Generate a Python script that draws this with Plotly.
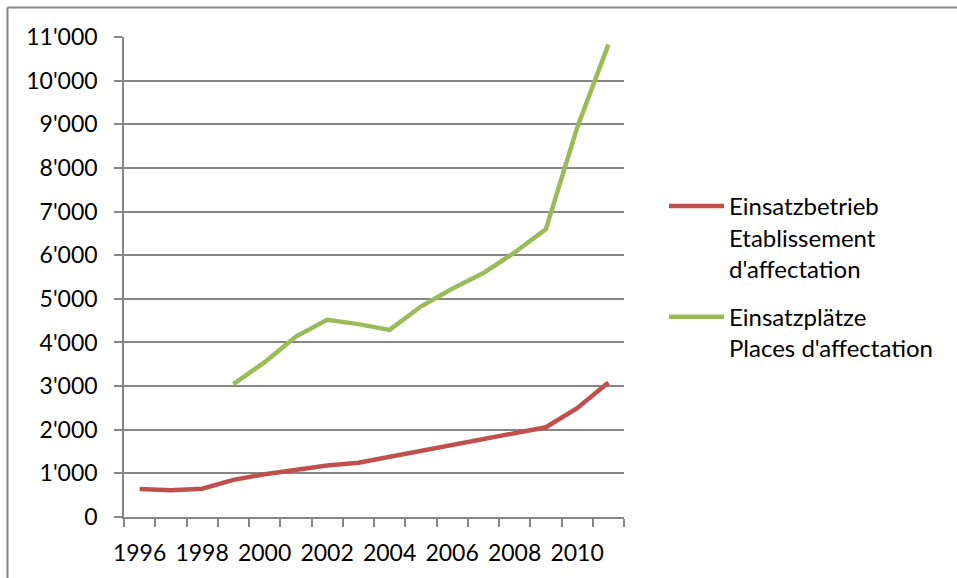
import plotly.graph_objects as go

years = list(range(1996, 2012))
betriebe = [640, 615, 650, 850, 980, 1090, 1180, 1245, 1383, 1498, 1644, 1789, 1919, 2056, 2493, 3081]
plaetze = [None, None, None, 3043, 3548, 4136, 4518, 4420, 4289, 4823, 5229, 5589, 6062, 6598, 8922, 10826]
name_betriebe = "Einsatzbetrieb<br>Etablissement<br>d'affectation"
name_plaetze = "Einsatzplätze<br>Places d'affectation"
x_tick_vals = [1996, 1998, 2000, 2002, 2004, 2006, 2008, 2010]
y_tick_vals = list(range(0, 11001, 1000))
y_tick_text = ["0"] + [f"{v // 1000}'000" for v in y_tick_vals[1:]]

GRID = "#868686"
FONT = "Lato"
TOP, BOTTOM, LEFT, PW = 37, 517, 124, 500
PH = BOTTOM - TOP

def px_x(p):
    return (p - LEFT) / PW

def px_y(p):
    return (BOTTOM - p) / PH

fig = go.Figure()
fig.add_trace(go.Scatter(x=years, y=betriebe, mode="lines", name=name_betriebe,
                         line=dict(color="#C0504D", width=4.5), legendgroup="a"))
fig.add_trace(go.Scatter(x=years, y=plaetze, mode="lines", name=name_plaetze,
                         line=dict(color="#9BBB59", width=4.5), legendgroup="b"))

fig.update_layout(
    width=957, height=578,
    margin=dict(l=LEFT, r=957 - LEFT - PW, t=TOP, b=578 - BOTTOM, autoexpand=False),
    paper_bgcolor="white", plot_bgcolor="white",
    font=dict(family=FONT, size=24, color="black"),
    showlegend=True,
    legend=dict(x=1.08, y=px_y(184), xanchor="left", yanchor="top",
                valign="top", traceorder="grouped", tracegroupgap=14,
                itemwidth=55, font=dict(family=FONT, size=24),
                bgcolor="rgba(0,0,0,0)"),
    xaxis=dict(range=[1995.5, 2011.5], tickvals=x_tick_vals, automargin=False,
               tickfont=dict(size=23),
               ticks="outside", ticklen=15, tickcolor="rgba(0,0,0,0)",
               showgrid=False, showline=True, linecolor=GRID, linewidth=1.5,
               zeroline=False,
               minor=dict(tick0=1995.5, dtick=1, ticks="outside", ticklen=8,
                          tickcolor=GRID, tickwidth=1.5, showgrid=False)),
    yaxis=dict(range=[0, 11000], tickvals=y_tick_vals, ticktext=y_tick_text,
               automargin=False, tickfont=dict(size=23),
               ticks="outside", ticklen=8, tickcolor=GRID, tickwidth=1.5,
               ticklabelstandoff=12,
               showgrid=True, gridcolor=GRID, gridwidth=1.5,
               showline=True, linecolor=GRID, linewidth=1.5, zeroline=False),
    shapes=[
        dict(type="line", xref="paper", yref="paper", layer="above",
             x0=px_x(7.5), x1=px_x(957), y0=px_y(7.5), y1=px_y(7.5),
             line=dict(color=GRID, width=2)),
        dict(type="line", xref="paper", yref="paper", layer="above",
             x0=px_x(7.5), x1=px_x(7.5), y0=px_y(7.5), y1=px_y(578),
             line=dict(color=GRID, width=2)),
    ],
)

fig.write_html("out.html")
